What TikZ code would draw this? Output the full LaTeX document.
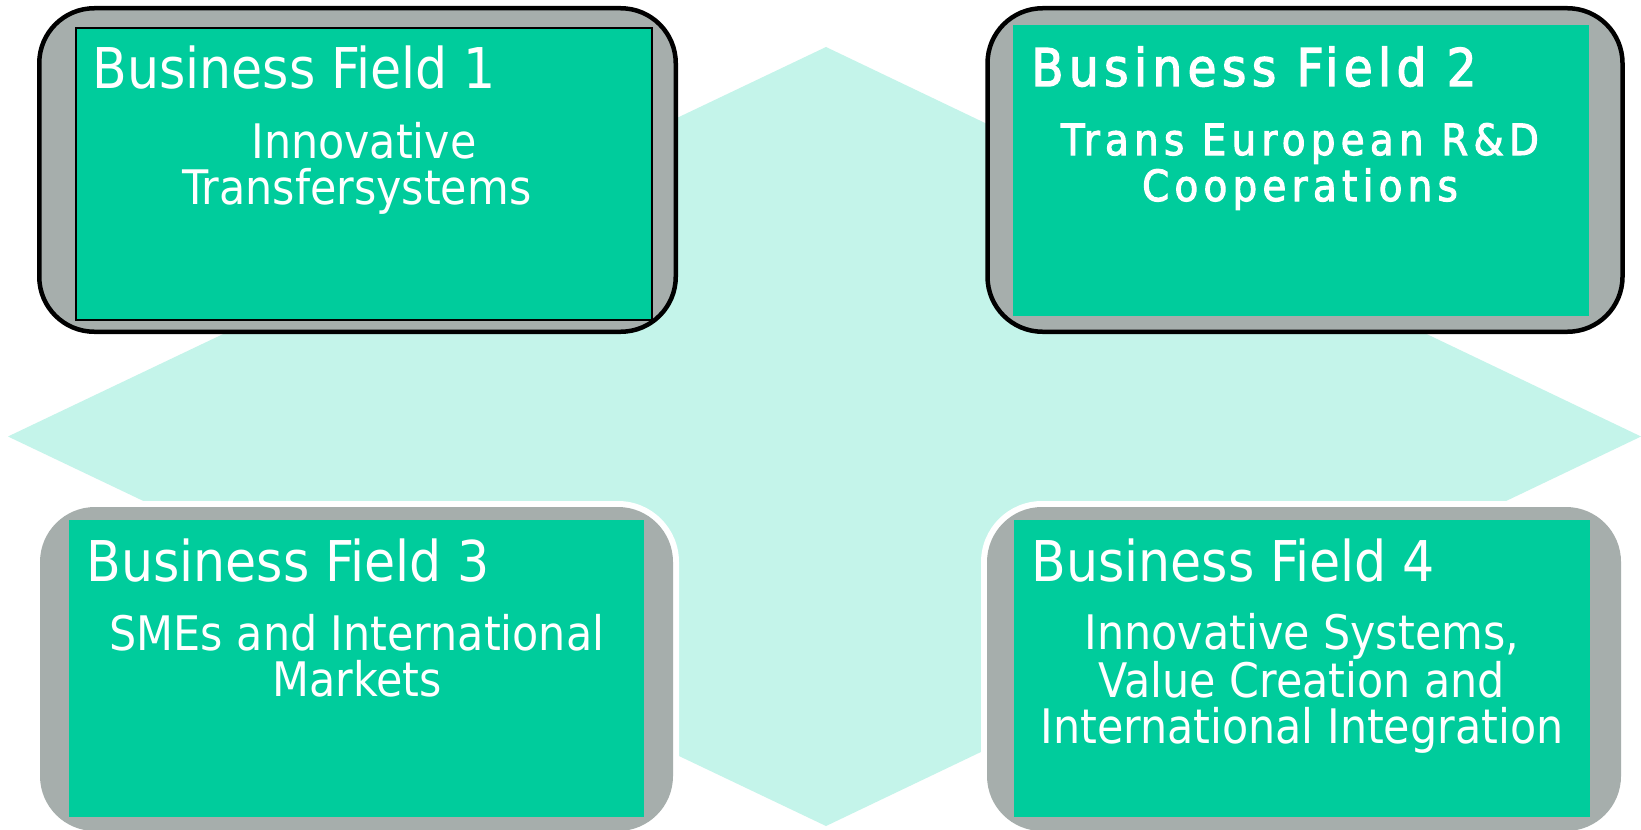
\documentclass[tikz,border=0pt]{standalone}
\usepackage{fontspec}
\setmainfont{DejaVu Sans Condensed}
\newfontfamily\spacedtitle[LetterSpace=10.6,FakeBold=2.5]{DejaVu Sans Condensed}
\newfontfamily\spacedsub[LetterSpace=12.5,FakeBold=2.5]{DejaVu Sans Condensed}
\definecolor{cyanbg}{HTML}{C4F4EA}
\definecolor{boxgray}{HTML}{A6AEAC}
\definecolor{boxgreen}{HTML}{00CC9C}
\begin{document}
\begin{tikzpicture}[x=0.5pt,y=-0.5pt,
  title/.style={anchor=base west,inner sep=0pt,text=white,font=\fontsize{28.1}{30}\selectfont},
  titlesp/.style={anchor=base west,inner sep=0pt,text=white,font=\spacedtitle\fontsize{26}{28}\selectfont},
  sub/.style={anchor=base,inner sep=0pt,text=white,align=center,font=\fontsize{23.8}{22.6}\selectfont},
  subsp/.style={anchor=base,inner sep=0pt,text=white,align=center,font=\spacedsub\fontsize{21.5}{23}\selectfont},
  outerbox/.style={line width=2.25pt,draw=black,fill=boxgray,rounded corners=27.5pt},
  plainbox/.style={fill=boxgray,rounded corners=27.5pt},
  halo/.style={fill=white,rounded corners=30.5pt},
  greenbox/.style={fill=boxgreen}
]
\useasboundingbox (0,0) rectangle (1641,829);
\clip (0,0) rectangle (1641,829);
\fill[white] (0,0) rectangle (1641,829);
% background diamond
\fill[cyanbg] (826,47) -- (1641,436.5) -- (826,826) -- (8,436.5) -- cycle;
% box 1
\draw[outerbox] (39.25,8.25) rectangle (675.75,331.75);
\draw[greenbox,draw=black,line width=0.75pt] (76,28) rectangle (652,320);
% box 2
\draw[outerbox] (987.5,8.25) rectangle (1622.5,331.75);
\fill[greenbox] (1013,25) rectangle (1589,316);
% box 3
\fill[halo] (34,501) rectangle (679,837);
\fill[plainbox] (40,507) rectangle (673,831);
\fill[greenbox] (69,520) rectangle (644,817);
% box 4
\fill[halo] (981,501) rectangle (1627,837);
\fill[plainbox] (987,507) rectangle (1621,831);
\fill[greenbox] (1014,520) rectangle (1590,817);
% texts (multi-line nodes: base = baseline of last line)
\node[title] (t1) at (92,89) {Business Field 1};
\node[sub] (s1) at (357,204) {\hspace*{7pt}Innovative\\Transfersystems};
\node[titlesp] (t2) at (1031,86) {Business Field 2};
\node[subsp] (s2) at (1300,201) {Trans European R\&D\\Cooperations};
\node[title] (t3) at (86,581) {Business Field 3};
\node[sub] (s3) at (357,696) {SMEs and International\\Markets};
\node[title] (t4) at (1031,581) {Business Field 4};
\node[sub] (s4) at (1302,743) {Innovative Systems,\\Value Creation and\\International Integration};
\end{tikzpicture}
\end{document}
